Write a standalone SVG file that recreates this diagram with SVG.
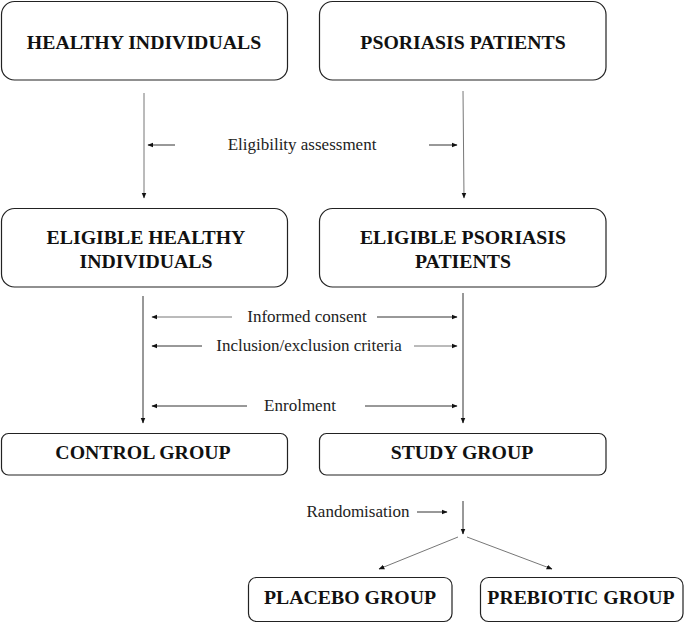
<svg xmlns="http://www.w3.org/2000/svg" width="685" height="623" viewBox="0 0 685 623">
<style>
.box{fill:#fff;stroke:#222;stroke-width:1.2}
.t{font-family:"Liberation Serif","Times New Roman",serif;font-weight:bold;font-size:19.8px;fill:#111;text-anchor:middle}
.l{font-family:"Liberation Serif","Times New Roman",serif;font-size:17px;fill:#222;text-anchor:middle}
.c{stroke:#333;stroke-width:1;fill:none}
.cl{stroke:#777;stroke-width:1;fill:none}
</style>
<defs>
<marker id="ah" viewBox="0 0 10 10" refX="9" refY="5" markerWidth="6" markerHeight="6" markerUnits="userSpaceOnUse" orient="auto"><path d="M0,1 L10,5 L0,9 Z" fill="#111"/></marker>
</defs>
<g id="n1"><rect class="box" x="1.5" y="1.5" width="286" height="78.5" rx="13"/><text class="t" x="144" y="49">HEALTHY INDIVIDUALS</text></g>
<g id="n2"><rect class="box" x="319.5" y="1.5" width="286.5" height="78.5" rx="13"/><text class="t" x="463" y="49">PSORIASIS PATIENTS</text></g>
<g id="n3"><rect class="box" x="1.5" y="208.5" width="286" height="78.5" rx="13"/><text class="t" x="146" y="244">ELIGIBLE HEALTHY</text><text class="t" x="146" y="268">INDIVIDUALS</text></g>
<g id="n4"><rect class="box" x="319.5" y="208.5" width="286.5" height="78.5" rx="13"/><text class="t" x="463" y="244">ELIGIBLE PSORIASIS</text><text class="t" x="463" y="268">PATIENTS</text></g>
<g id="n5"><rect class="box" x="1.5" y="433.5" width="286" height="41.5" rx="7"/><text class="t" x="143" y="459">CONTROL GROUP</text></g>
<g id="n6"><rect class="box" x="319.5" y="433.5" width="286.5" height="41.5" rx="7"/><text class="t" x="462" y="459">STUDY GROUP</text></g>
<g id="n7"><rect class="box" x="248.5" y="577.5" width="203.5" height="44" rx="8"/><text class="t" x="350" y="604">PLACEBO GROUP</text></g>
<g id="n8"><rect class="box" x="480.5" y="577.5" width="202.5" height="44" rx="8"/><text class="t" x="581" y="604">PREBIOTIC GROUP</text></g>
<g id="connectors">
<line class="cl" x1="144" y1="93" x2="144" y2="198" marker-end="url(#ah)"/>
<line class="cl" x1="463" y1="91" x2="464" y2="198" marker-end="url(#ah)"/>
<line class="c" x1="175" y1="145" x2="148" y2="145" marker-end="url(#ah)"/>
<line class="c" x1="429" y1="145" x2="457" y2="145" marker-end="url(#ah)"/>
<line class="c" x1="143" y1="296" x2="143" y2="423" marker-end="url(#ah)"/>
<line class="c" x1="463" y1="293" x2="463" y2="423" marker-end="url(#ah)"/>
<line class="cl" x1="232" y1="317" x2="152" y2="317" marker-end="url(#ah)"/>
<line class="c" x1="377" y1="317" x2="457" y2="317" marker-end="url(#ah)"/>
<line class="c" x1="202" y1="346" x2="152" y2="346" marker-end="url(#ah)"/>
<line class="cl" x1="414" y1="346" x2="457" y2="346" marker-end="url(#ah)"/>
<line class="c" x1="247" y1="406" x2="152" y2="406" marker-end="url(#ah)"/>
<line class="c" x1="365" y1="406" x2="457" y2="406" marker-end="url(#ah)"/>
<line class="c" x1="417" y1="512" x2="447" y2="512" marker-end="url(#ah)"/>
<line class="c" x1="463" y1="501" x2="463" y2="534" marker-end="url(#ah)"/>
<line class="cl" x1="458" y1="537" x2="379" y2="569" marker-end="url(#ah)"/>
<line class="cl" x1="467" y1="537" x2="552" y2="569" marker-end="url(#ah)"/>
</g>
<text class="l" x="302" y="150">Eligibility assessment</text>
<text class="l" x="307" y="322">Informed consent</text>
<text class="l" x="309" y="351">Inclusion/exclusion criteria</text>
<text class="l" x="300" y="411">Enrolment</text>
<text class="l" x="358" y="517">Randomisation</text>
</svg>
